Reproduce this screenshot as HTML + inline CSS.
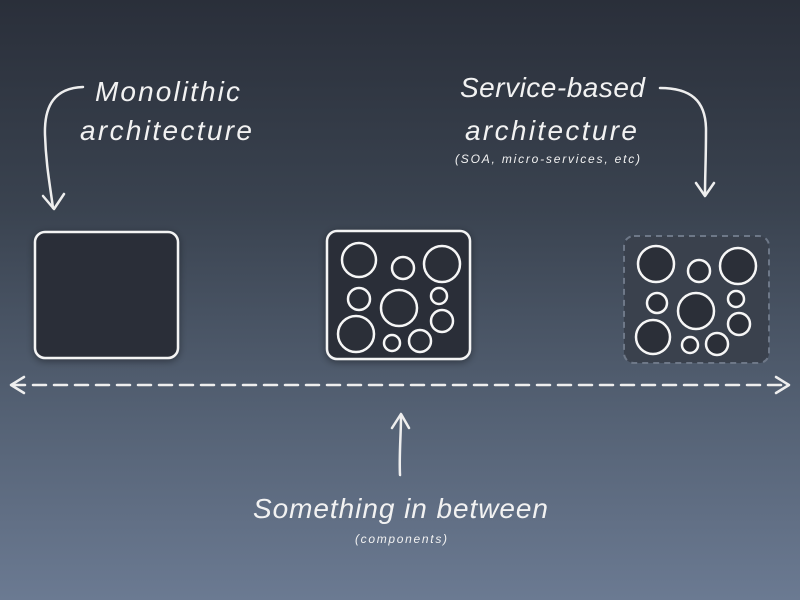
<!DOCTYPE html>
<html><head><style>
html,body{margin:0;padding:0}
body{width:800px;height:600px;overflow:hidden;background:linear-gradient(#2a2f3a 0%,#3a4350 35%,#556275 70%,#6b7a92 100%);}
svg{display:block}
text{font-family:"Liberation Sans",sans-serif;font-style:italic;fill:#f2f2f2}
</style></head><body>
<svg width="800" height="600" viewBox="0 0 800 600">
<defs>
<filter id="sh" x="-20%" y="-20%" width="140%" height="140%"><feDropShadow dx="0" dy="2" stdDeviation="4" flood-color="#000" flood-opacity="0.4"/></filter>
</defs>
<g fill="none" stroke="#eee" stroke-width="2.5" stroke-linecap="round" stroke-linejoin="round">
<path d="M83 87 C55 88 44 105 45 135 C46 165 50 185 53 208"/>
<path d="M43 196 L54 209 L64 194"/>
<path d="M660 88 C690 88 706 100 706 130 C706 160 705 175 705 195"/>
<path d="M696 183 L705 196 L714 183"/>
<path d="M400 475 C399 455 401 435 401 416"/>
<path d="M392 428 L401 414 L409 428"/>
<path d="M12 385 L788 385" stroke-dasharray="13 8"/>
<path d="M24 377 L11 385 L24 393"/>
<path d="M776 377 L789 385 L776 393"/>
</g>
<rect x="35" y="232" width="143" height="126" rx="10" fill="#2b2f38" stroke="#f4f4f4" stroke-width="2.5" filter="url(#sh)"/>
<rect x="327" y="231" width="143" height="128" rx="10" fill="#2b2f38" stroke="#f4f4f4" stroke-width="2.5" filter="url(#sh)"/>
<rect x="624" y="236" width="145" height="127" rx="10" fill="#3a414d" stroke="#6e7888" stroke-width="2" stroke-dasharray="6 5"/>
<g fill="#2b2f38" stroke="#f6f6f6" stroke-width="2.5">
<circle cx="359" cy="260" r="17"/><circle cx="403" cy="268" r="11"/><circle cx="442" cy="264" r="18"/>
<circle cx="359" cy="299" r="11"/><circle cx="399" cy="308" r="18"/><circle cx="439" cy="296" r="8"/>
<circle cx="356" cy="334" r="18"/><circle cx="392" cy="343" r="8"/><circle cx="420" cy="341" r="11"/><circle cx="442" cy="321" r="11"/>
<circle cx="656" cy="264" r="18"/><circle cx="699" cy="271" r="11"/><circle cx="738" cy="266" r="18"/>
<circle cx="657" cy="303" r="10"/><circle cx="696" cy="311" r="18"/><circle cx="736" cy="299" r="8"/>
<circle cx="653" cy="337" r="17"/><circle cx="690" cy="345" r="8"/><circle cx="717" cy="344" r="11"/><circle cx="739" cy="324" r="11"/>
</g>
<text x="95" y="101" font-size="28" textLength="145">Monolithic</text>
<text x="80" y="140" font-size="28" textLength="172">architecture</text>
<text x="460" y="97" font-size="28" textLength="185">Service-based</text>
<text x="465" y="140" font-size="28" textLength="172">architecture</text>
<text x="455" y="163" font-size="12" textLength="185">(SOA, micro-services, etc)</text>
<text x="253" y="518" font-size="28" textLength="295">Something in between</text>
<text x="355" y="543" font-size="12" textLength="92">(components)</text>
</svg>
</body></html>
